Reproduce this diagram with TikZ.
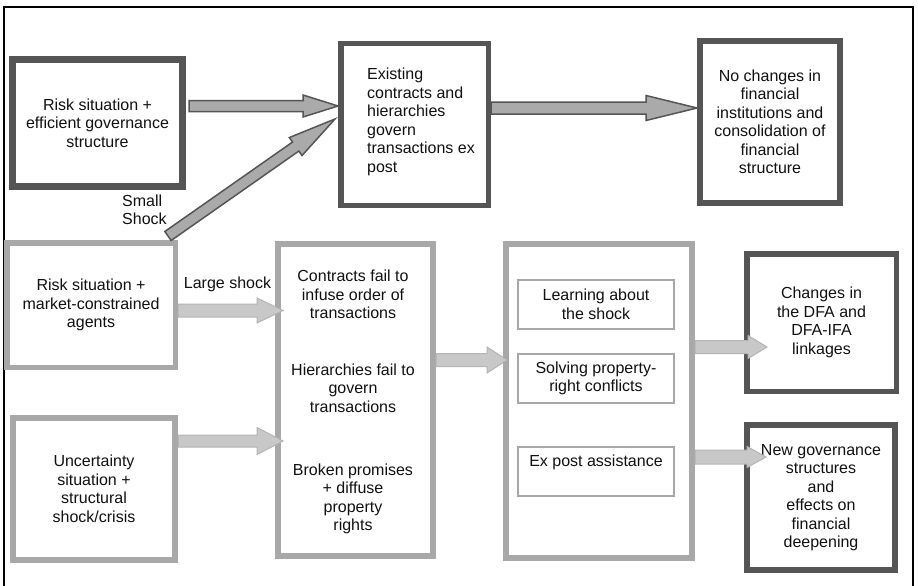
\documentclass[tikz,border=0pt]{standalone}
\usepackage{fontspec}
\setmainfont{Liberation Sans}
\usetikzlibrary{calc}

\definecolor{darkedge}{HTML}{555555}
\definecolor{lightedge}{HTML}{A8A8A8}
\definecolor{darkfill}{HTML}{AAAAAA}
\definecolor{lightfill}{HTML}{C8C8C8}
\definecolor{lightarrowedge}{HTML}{B4B4B4}
\definecolor{ink}{HTML}{111111}

% Block arrow: #1 style, #2 tail, #3 tip, #4 shaft half-width,
% #5 head half-width, #6 head length
\newcommand\blockarrow[6]{%
  \coordinate (ba-base) at ($(#3)!#6!(#2)$);
  \filldraw[#1] ($(#2)!#4!90:(#3)$) -- ($(ba-base)!#4!90:(#3)$)
    -- ($(ba-base)!#5!90:(#3)$) -- (#3) -- ($(ba-base)!#5!-90:(#3)$)
    -- ($(ba-base)!#4!-90:(#3)$) -- ($(#2)!#4!-90:(#3)$) -- cycle;
}

\begin{document}
\begin{tikzpicture}[x=1pt,y=-1pt,
  every node/.style={font=\fontsize{16}{18.5}\selectfont, text=ink, align=center},
  darkbox/.style={draw=darkedge, line width=6pt, fill=white, inner sep=0pt},
  lightbox/.style={draw=lightedge, line width=5.5pt, fill=white, inner sep=0pt},
  subbox/.style={draw=lightedge, line width=1.5pt, inner sep=0pt,
                 minimum width=156pt, minimum height=49pt},
  plain/.style={inner sep=0pt},
  darkarrow/.style={fill=darkfill, draw=darkedge, line width=1.5pt},
  lightarrow/.style={fill=lightfill, draw=lightarrowedge, line width=1pt},
]
\useasboundingbox (0,0) rectangle (918,586);
\fill[white] (0,0) rectangle (918,586);

% outer frame (open at the bottom)
\draw[line width=1.3pt, black] (4,586) -- (4,7) -- (913,7) -- (913,586);

% upper row
\node[darkbox, line width=7pt, minimum width=170pt, minimum height=127pt]
  (riskgov) at (97.5,123) {Risk situation +\\efficient governance\\structure};
\node[darkbox, line width=5.5pt, minimum width=147.5pt, minimum height=161.5pt]
  (existing) at (414.5,124.5) {};
\node[plain, anchor=west, align=left] (existingtxt) at (367,121.7)
  {Existing\\contracts and\\hierarchies\\govern\\transactions ex\\post};
\node[darkbox, minimum width=140pt, minimum height=162pt]
  (nochange) at (770,122) {No changes in\\financial\\institutions and\\consolidation of\\financial\\structure};

% left column
\node[lightbox, minimum width=168.5pt, minimum height=124.5pt]
  (riskmkt) at (91,305) {Risk situation +\\market-constrained\\agents};
\node[lightbox, line width=6pt, minimum width=162.5pt, minimum height=142.5pt]
  (uncert) at (94,489) {Uncertainty\\situation +\\structural\\shock/crisis};

% failures
\node[lightbox, line width=6pt, minimum width=155pt, minimum height=312pt]
  (fail) at (355.5,400) {};
\node[plain] (failA) at (353,294.5) {Contracts fail to\\infuse order of\\transactions};
\node[plain] (failB) at (353,388) {Hierarchies fail to\\govern\\transactions};
\node[plain] (failC) at (353,498.7) {Broken promises\\+ diffuse\\property\\rights};

% responses
\node[lightbox, line width=6pt, minimum width=186pt, minimum height=314pt]
  (learn) at (599,401) {};
\node[subbox] (learnA) at (596,304.5) {Learning about\\the shock};
\node[subbox] (learnB) at (596,378.5) {Solving property-\\right conflicts};
\node[subbox] (learnC) at (596,471.5) {};
\node[plain] (learnCtxt) at (596,462) {Ex post assistance};

% outcomes
\node[darkbox, line width=5.5pt, minimum width=149.5pt, minimum height=137.5pt]
  (dfa) at (821.5,322.5) {Changes in\\the DFA and\\DFA-IFA\\linkages};
\node[darkbox, minimum width=148pt, minimum height=145pt]
  (newgov) at (821,497.5) {New governance\\structures\\and\\effects on\\financial\\deepening};

% arrow labels
\node[plain, anchor=west, align=left] (smallshock) at (122,210) {Small\\Shock};
\node[plain] (largeshock) at (227.5,284) {Large shock};

% arrows
\coordinate (a1s) at ([xshift=3pt,yshift=17pt]riskgov.east);
\coordinate (a1t) at ([yshift=18.5pt]existing.west);
\blockarrow{darkarrow}{a1s}{a1t}{5.5pt}{11pt}{35pt}

\coordinate (a2s) at ([xshift=77pt,yshift=4pt]riskmkt.north);
\coordinate (a2t) at ([xshift=-3pt,yshift=5.5pt]existing.west);
\blockarrow{darkarrow}{a2s}{a2t}{5.5pt}{11pt}{48pt}

\coordinate (a3s) at ([yshift=16.5pt]existing.east);
\coordinate (a3t) at ([yshift=14pt]nochange.west);
\blockarrow{darkarrow}{a3s}{a3t}{6pt}{12.5pt}{51pt}

\coordinate (a4s) at ([yshift=-5.5pt]riskmkt.east);
\coordinate (a4t) at ([xshift=8pt,yshift=89.5pt]fail.west);
\blockarrow{lightarrow}{a4s}{a4t}{6.5pt}{12.5pt}{26pt}

\coordinate (a5s) at ([yshift=48pt]uncert.east);
\coordinate (a5t) at ([xshift=8pt,yshift=-41pt]fail.west);
\blockarrow{lightarrow}{a5s}{a5t}{6pt}{13.5pt}{26pt}

\coordinate (a6s) at ([yshift=40pt]fail.east);
\coordinate (a6t) at ([xshift=4pt,yshift=41pt]learn.west);
\blockarrow{lightarrow}{a6s}{a6t}{6.5pt}{13pt}{20pt}

\coordinate (a7s) at ([yshift=54pt]learn.east);
\coordinate (a7t) at ([xshift=23pt,yshift=-24.5pt]dfa.west);
\blockarrow{lightarrow}{a7s}{a7t}{6.5pt}{11.5pt}{19pt}

\coordinate (a8s) at ([yshift=-56pt]learn.east);
\coordinate (a8t) at ([xshift=22pt,yshift=40.5pt]newgov.west);
\blockarrow{lightarrow}{a8s}{a8t}{7pt}{10.5pt}{19pt}
\end{tikzpicture}
\end{document}
